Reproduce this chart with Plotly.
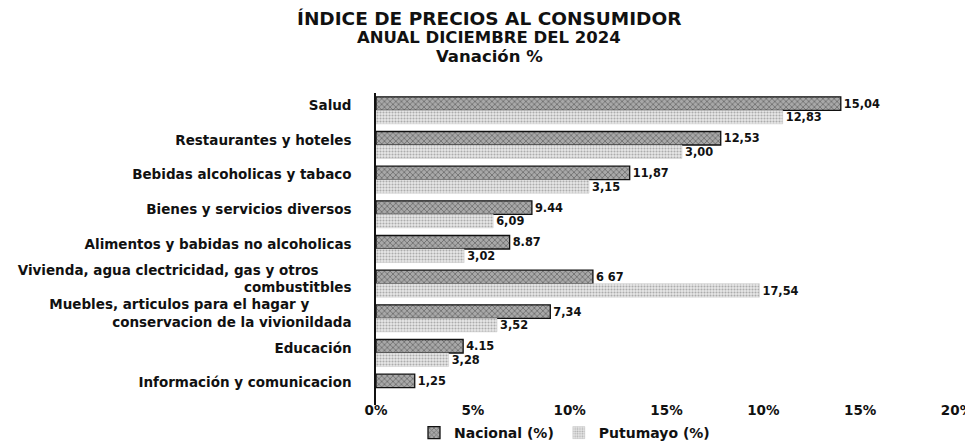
import plotly.graph_objects as go

NB = "\u00a0"
categories = [
    "Salud",
    "Restaurantes y hoteles",
    "Bebidas alcoholicas y tabaco",
    "Bienes y servicios diversos",
    "Alimentos y babidas no alcoholicas",
    "Vivienda, agua clectricidad, gas y otros" + NB * 7 + "<br>combustitbles",
    "Muebles, articulos para el hagar y" + NB * 9 + "<br>conservacion de la vivionildada",
    "Educación",
    "Información y comunicacion",
]

# bar lengths as drawn against the x axis (%)
nacional = [24.0, 17.8, 13.1, 8.05, 6.9, 11.2, 9.0, 4.5, 2.0]
putumayo = [21.0, 15.8, 11.0, 6.05, 4.55, 19.8, 6.25, 3.75, None]

# value labels as printed next to each bar
nacional_labels = ["15,04", "12,53", "11,87", "9.44", "8.87", "6 67", "7,34", "4.15", "1,25"]
putumayo_labels = ["12,83", "3,00", "3,15", "6,09", "3,02", "17,54", "3,52", "3,28", ""]

tick_vals = [0, 5, 10, 15, 20, 25, 30]
tick_text = ["0%", "5%", "10%", "15%", "10%", "15%", "20%"]

title_lines = ["ÍNDICE DE PRECIOS AL CONSUMIDOR", "ANUAL DICIEMBRE DEL 2024", "Vanación %"]

FONT = "DejaVu Sans"
OFF = 8  # page body margin offset
W, H = 973, 442
L = 376 - OFF
T = 93 - OFF
R = W - (957 - OFF)
B = H - (405 - OFF)
PW, PH = W - L - R, H - T - B

fig = go.Figure()
fig.add_trace(go.Bar(
    y=categories, x=nacional, orientation="h", name="Nacional (%)",
    text=nacional_labels, textposition="outside", cliponaxis=False,
    textfont=dict(family=FONT, size=13.5, color="#111", weight="bold"),
    marker=dict(
        color="#8f8f8f",
        line=dict(color="#111", width=1.3),
        pattern=dict(shape="x", fgcolor="#3a3a3a", bgcolor="#a8a8a8", size=4, solidity=0.4),
    ),
))
fig.add_trace(go.Bar(
    y=categories, x=putumayo, orientation="h", name="Putumayo (%)",
    text=putumayo_labels, textposition="outside", cliponaxis=False,
    textfont=dict(family=FONT, size=13.5, color="#111", weight="bold"),
    marker=dict(
        color="#d8d8d8",
        line=dict(color="#c8c8c8", width=0.5),
        pattern=dict(shape=".", fgcolor="#6f6f6f", bgcolor="#e8e8e8", size=3, solidity=0.4),
    ),
))

for txt, yy, sz in zip(title_lines, [18.5, 38, 57], [18.5, 16.5, 16.5]):
    fig.add_annotation(
        text=txt, xref="paper", yref="paper",
        x=(489 - OFF - L) / PW, y=1 + (T - (yy - OFF)) / PH,
        xanchor="center", yanchor="middle", showarrow=False,
        font=dict(family=FONT, size=sz, color="#111", weight="bold"),
    )

fig.update_layout(
    width=W, height=H,
    margin=dict(l=L, r=R, t=T, b=B, autoexpand=False),
    paper_bgcolor="white", plot_bgcolor="white",
    barmode="group", bargap=0.22, bargroupgap=0.0,
    showlegend=True,
    legend=dict(
        orientation="h", x=(414 - OFF - L) / PW, y=-((433 - OFF) - (H - B)) / PH,
        xanchor="left", yanchor="middle",
        font=dict(family=FONT, size=14, color="#111", weight="bold"),
        itemwidth=30,
    ),
    xaxis=dict(
        range=[0, 30], tickvals=tick_vals, ticktext=tick_text,
        showgrid=False, zeroline=False, showline=False, ticks="",
        automargin=False, ticklabelstandoff=-5,
        tickfont=dict(family=FONT, size=13.5, color="#111", weight="bold"),
    ),
    yaxis=dict(
        autorange="reversed", showgrid=False, zeroline=False,
        showline=True, linecolor="#111", linewidth=1.5, ticks="",
        automargin=False, ticklabelstandoff=20, ticklabelshift=5,
        tickfont=dict(family=FONT, size=13.5, color="#111", weight="bold"),
    ),
)

fig.write_html("out.html")
